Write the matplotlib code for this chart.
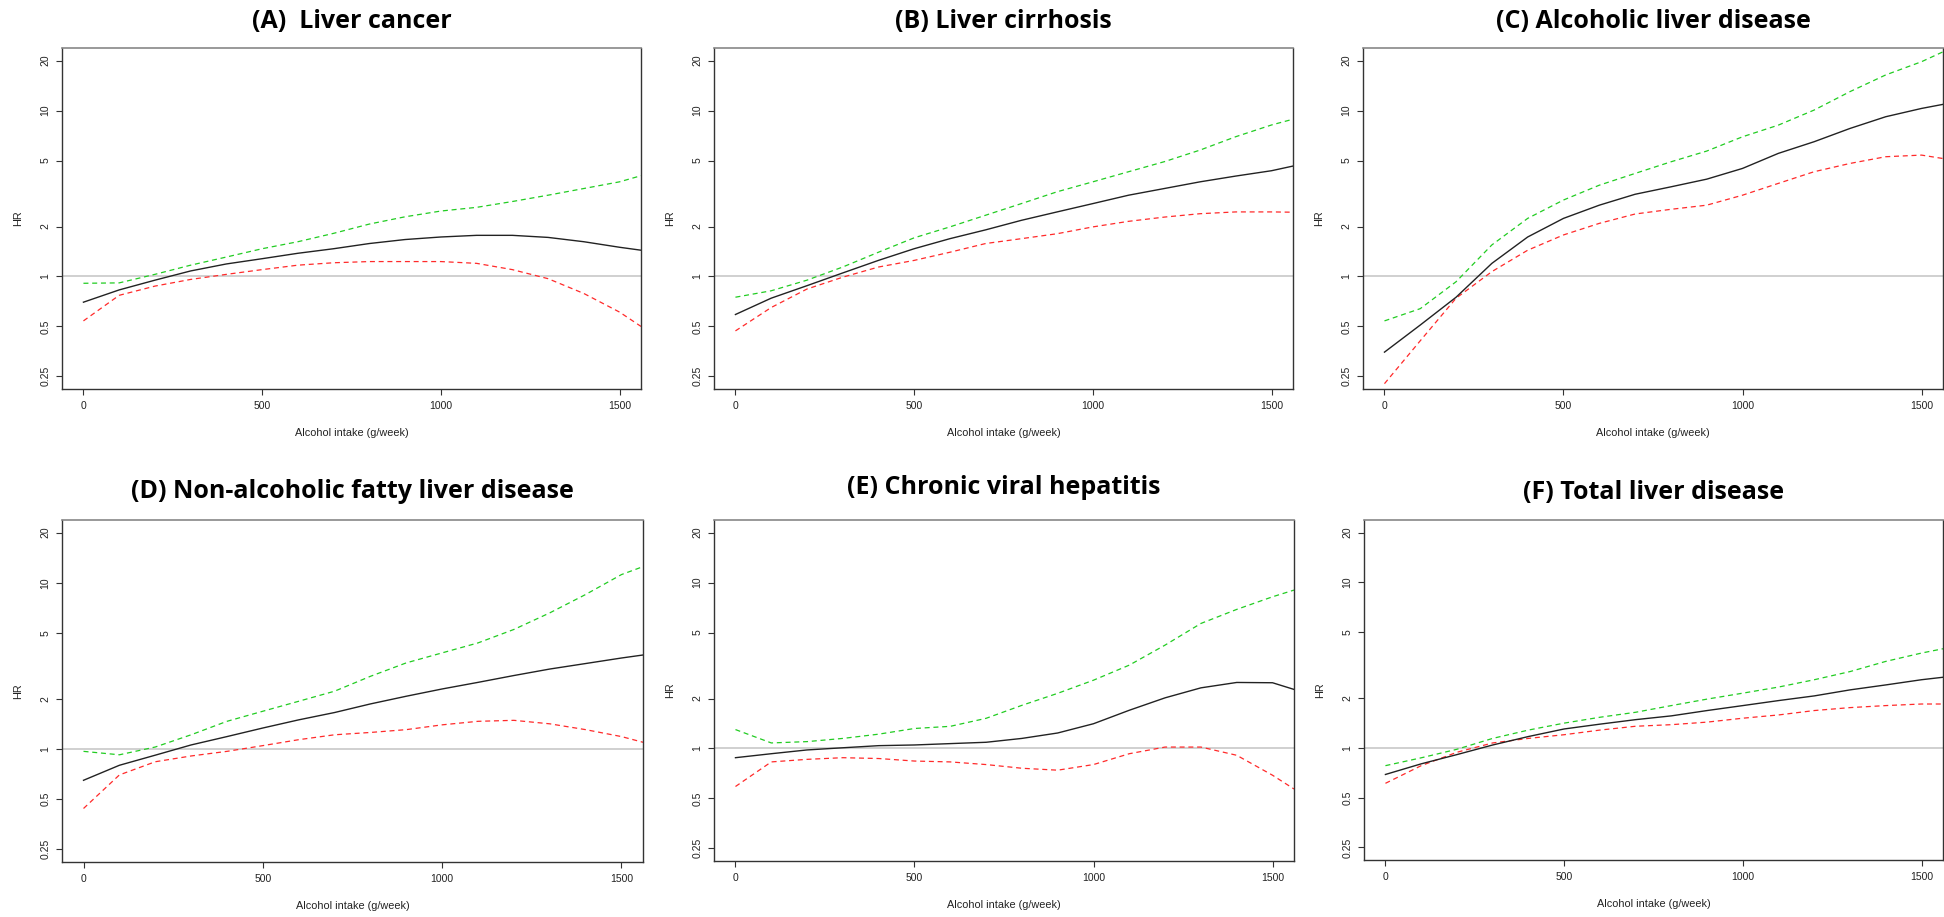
import matplotlib
matplotlib.use('Agg')
import matplotlib.pyplot as plt
from matplotlib.ticker import FixedLocator, FixedFormatter, NullLocator
import matplotlib.transforms as mtransforms

# alcohol intake grid (g/week)
intake = [0, 100, 200, 300, 400, 500, 600, 700, 800, 900, 1000,
          1100, 1200, 1300, 1400, 1500, 1560]

titles = ['(A)  Liver cancer', '(B) Liver cirrhosis', '(C) Alcoholic liver disease',
          '(D) Non-alcoholic fatty liver disease', '(E) Chronic viral hepatitis',
          '(F) Total liver disease']

# hazard ratio estimates, upper and lower bounds
hr_a = [0.70, 0.83, 0.95, 1.08, 1.19, 1.28, 1.38, 1.47, 1.58, 1.67, 1.73, 1.77, 1.77, 1.72, 1.62, 1.50, 1.44]
up_a = [0.91, 0.915, 1.03, 1.17, 1.31, 1.47, 1.62, 1.82, 2.07, 2.29, 2.48, 2.61, 2.83, 3.09, 3.39, 3.72, 4.05]
lo_a = [0.54, 0.77, 0.875, 0.96, 1.03, 1.10, 1.17, 1.21, 1.23, 1.23, 1.23, 1.20, 1.10, 0.97, 0.79, 0.61, 0.50]

hr_b = [0.59, 0.74, 0.88, 1.05, 1.25, 1.47, 1.69, 1.91, 2.18, 2.45, 2.75, 3.09, 3.39, 3.72, 4.03, 4.34, 4.63]
up_b = [0.75, 0.82, 0.95, 1.14, 1.40, 1.71, 1.99, 2.34, 2.75, 3.24, 3.72, 4.28, 4.92, 5.78, 6.96, 8.19, 8.87]
lo_b = [0.47, 0.65, 0.84, 0.99, 1.14, 1.25, 1.40, 1.58, 1.69, 1.81, 1.99, 2.15, 2.28, 2.39, 2.45, 2.45, 2.44]

hr_c = [0.35, 0.51, 0.75, 1.20, 1.73, 2.24, 2.69, 3.13, 3.47, 3.86, 4.48, 5.52, 6.49, 7.80, 9.18, 10.3, 10.9]
up_c = [0.54, 0.64, 0.93, 1.55, 2.24, 2.89, 3.55, 4.18, 4.91, 5.70, 6.95, 8.17, 10.07, 13.0, 16.4, 19.7, 22.6]
lo_c = [0.226, 0.41, 0.74, 1.07, 1.44, 1.78, 2.09, 2.38, 2.54, 2.69, 3.09, 3.64, 4.28, 4.80, 5.27, 5.39, 5.14]

hr_d = [0.65, 0.80, 0.92, 1.06, 1.19, 1.34, 1.50, 1.66, 1.87, 2.08, 2.30, 2.52, 2.77, 3.03, 3.27, 3.53, 3.68]
up_d = [0.97, 0.925, 1.03, 1.22, 1.47, 1.69, 1.94, 2.23, 2.74, 3.30, 3.79, 4.35, 5.24, 6.59, 8.5, 11.2, 12.5]
lo_d = [0.44, 0.70, 0.84, 0.91, 0.97, 1.05, 1.14, 1.22, 1.26, 1.31, 1.40, 1.47, 1.49, 1.42, 1.31, 1.19, 1.10]

hr_e = [0.88, 0.93, 0.98, 1.01, 1.04, 1.05, 1.07, 1.09, 1.15, 1.24, 1.41, 1.70, 2.02, 2.32, 2.50, 2.49, 2.27]
up_e = [1.30, 1.08, 1.10, 1.15, 1.22, 1.32, 1.36, 1.52, 1.82, 2.15, 2.58, 3.18, 4.20, 5.67, 6.89, 8.21, 9.01]
lo_e = [0.59, 0.83, 0.86, 0.88, 0.87, 0.84, 0.83, 0.80, 0.76, 0.74, 0.80, 0.93, 1.02, 1.02, 0.91, 0.69, 0.57]

hr_f = [0.69, 0.80, 0.91, 1.04, 1.17, 1.30, 1.39, 1.48, 1.56, 1.68, 1.80, 1.93, 2.06, 2.24, 2.40, 2.58, 2.67]
up_f = [0.78, 0.87, 0.98, 1.14, 1.28, 1.41, 1.53, 1.64, 1.80, 1.97, 2.14, 2.33, 2.58, 2.89, 3.33, 3.74, 3.97]
lo_f = [0.61, 0.78, 0.94, 1.07, 1.14, 1.20, 1.28, 1.35, 1.38, 1.43, 1.51, 1.58, 1.68, 1.75, 1.80, 1.84, 1.84]

y_ticks = [0.25, 0.5, 1, 2, 5, 10, 20]
y_labels = ['0.25', '0.5', '1', '2', '5', '10', '20']
x_ticks = [0, 500, 1000, 1500]

W, H = 1944, 917
fig = plt.figure(figsize=(W / 100, H / 100), dpi=100)
plt.rcParams['font.family'] = ['Liberation Sans', 'DejaVu Sans']

# frame boxes in pixels: left, top, right, bottom
boxes = [(62, 48, 641, 389), (714, 48, 1293, 389), (1363, 48, 1943, 389),
         (62, 520, 643, 862), (714, 520, 1294, 861), (1364, 520, 1943, 860)]
title_y = [22, 22, 22, 491, 488, 493]

panels = [(hr_a, up_a, lo_a), (hr_b, up_b, lo_b), (hr_c, up_c, lo_c),
          (hr_d, up_d, lo_d), (hr_e, up_e, lo_e), (hr_f, up_f, lo_f)]

ylo = 0.25 * 10 ** (-0.0761)
yhi = 20 * 10 ** (0.0761)

for i, (hr, up, lo) in enumerate(panels):
    l, t, r, b = boxes[i]
    ax = fig.add_axes([l / W, 1 - b / H, (r - l) / W, (b - t) / H])
    ax.set_yscale('log')
    ax.set_xlim(-60, 1560)
    ax.set_ylim(ylo, yhi)
    ax.axhline(1, color='#c8c8c8', lw=1.2, zorder=1)
    ax.plot(intake, up, color='#22cc22', lw=0.9, ls=(0, (4, 3)), zorder=2)
    ax.plot(intake, lo, color='#ff2a2a', lw=0.9, ls=(0, (4, 3)), zorder=2)
    ax.plot(intake, hr, color='#222222', lw=1.0, zorder=3)

    ax.yaxis.set_major_locator(FixedLocator(y_ticks))
    ax.yaxis.set_major_formatter(FixedFormatter(y_labels))
    ax.yaxis.set_minor_locator(NullLocator())
    ax.set_xticks(x_ticks)
    ax.tick_params(direction='out', length=4.5, width=0.8, color='#333333',
                   labelsize=7.5, labelcolor='#222222', pad=4)
    ax.tick_params(axis='y', labelrotation=90)
    for lab in ax.get_yticklabels():
        lab.set_va('center')
    for side in ['left', 'bottom', 'right']:
        ax.spines[side].set_color('#333333')
        ax.spines[side].set_linewidth(1.0)
    ax.spines['top'].set_color('#888888')
    ax.spines['top'].set_linewidth(1.2)

    tr_x = mtransforms.offset_copy(ax.transAxes, fig=fig, x=0, y=-44, units='dots')
    ax.text(0.5, 0, 'Alcohol intake (g/week)', transform=tr_x, ha='center', va='center',
            fontsize=7.8, color='#222222')
    tr_y = mtransforms.offset_copy(ax.transAxes, fig=fig, x=-44, y=0, units='dots')
    ax.text(0, 0.5, 'HR', transform=tr_y, ha='center', va='center', rotation=90,
            fontsize=7.8, color='#222222')

    fig.text((l + r) / 2 / W, 1 - title_y[i] / H, titles[i], ha='center', va='center',
             fontsize=18, fontweight='bold', family=['Open Sans', 'DejaVu Sans'], color='black')

fig.savefig('out.png', dpi=100, facecolor='white')
